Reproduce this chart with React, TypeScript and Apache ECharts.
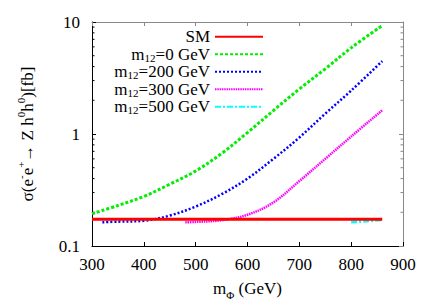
import React, { useEffect, useRef } from "react";
import * as echarts from "echarts";

const FONT = "'Liberation Serif', 'DejaVu Serif', 'Times New Roman', serif";

const seriesNames = ["SM", "m12=0 GeV", "m12=200 GeV", "m12=300 GeV", "m12=500 GeV"];
const seriesColors = ["#ff0000", "#00ee00", "#0000ff", "#ff00ff", "#00ffff"];

const smMass = [300, 400, 500, 600, 700, 800, 860];
const smSigma = [0.173, 0.173, 0.173, 0.173, 0.173, 0.173, 0.173];

const m0Mass = [300, 350, 400, 450, 500, 550, 600, 650, 700, 750, 800, 860];
const m0Sigma = [0.194, 0.23, 0.277, 0.356, 0.467, 0.67, 1.03, 1.62, 2.52, 3.82, 5.88, 9.3];

const m200Mass = [320, 350, 400, 450, 500, 550, 600, 650, 700, 750, 800, 860];
const m200Sigma = [0.163, 0.165, 0.168, 0.187, 0.225, 0.29, 0.4, 0.6, 0.93, 1.52, 2.44, 4.48];

const m300Mass = [480, 500, 550, 600, 650, 700, 750, 800, 860];
const m300Sigma = [0.163, 0.164, 0.17, 0.19, 0.245, 0.38, 0.6, 0.95, 1.63];

const m500Mass = [800, 830, 860];
const m500Sigma = [0.164, 0.167, 0.172];

const xTicksMin = 300;
const xTicksMax = 900;
const xTickStep = 100;
const yMin = 0.1;
const yMax = 10;
const yMinorTicks = [0.2, 0.3, 0.4, 0.5, 0.6, 0.7, 0.8, 0.9, 2, 3, 4, 5, 6, 7, 8, 9];

const zip = (xs: number[], ys: number[]) => xs.map((x, i) => [x, ys[i]]);

export default function App() {
  const ref = useRef<HTMLDivElement>(null);
  useEffect(() => {
    if (!ref.current) return;
    const chart = echarts.init(ref.current, undefined, { renderer: "svg" });
    const lineStyles: any[] = [
      { width: 3, type: "solid" },
      { width: 3, type: [3, 2] },
      { width: 2.5, type: [2, 2] },
      { width: 2.5, type: [1.5, 0.8] },
      { width: 3, type: [6, 2, 2, 2] },
    ];
    const datas = [
      zip(smMass, smSigma),
      zip(m0Mass, m0Sigma),
      zip(m200Mass, m200Sigma),
      zip(m300Mass, m300Sigma),
      zip(m500Mass, m500Sigma),
    ];
    const lineSeries = datas.map((d, i) => ({
      type: "line",
      name: seriesNames[i],
      data: d,
      smooth: 0.35,
      symbol: "none",
      xAxisIndex: 0,
      yAxisIndex: 0,
      z: i === 0 ? 5 : 3,
      lineStyle: { color: seriesColors[i], ...lineStyles[i] },
      itemStyle: { color: seriesColors[i] },
    }));
    const tickSeries = {
      type: "custom",
      name: "minorTicks",
      xAxisIndex: 0,
      yAxisIndex: 0,
      silent: true,
      data: yMinorTicks.map((v) => [xTicksMin, v]),
      renderItem: (params: any, api: any) => {
        const p = api.coord([api.value(0), api.value(1)]);
        const cs = params.coordSys;
        return {
          type: "group",
          children: [
            { type: "line", shape: { x1: cs.x, y1: p[1], x2: cs.x + 2.5, y2: p[1] }, style: { stroke: "#000", lineWidth: 1 } },
            { type: "line", shape: { x1: cs.x + cs.width, y1: p[1], x2: cs.x + cs.width - 2.5, y2: p[1] }, style: { stroke: "#888", lineWidth: 1 } },
          ],
        };
      },
    };
    const axisFont = { fontFamily: FONT, fontSize: 17, color: "#000" };
    chart.setOption({
      animation: false,
      grid: { left: 92, right: 32, top: 22, bottom: 56 },
      legend: {
        data: seriesNames,
        orient: "vertical",
        align: "right",
        right: 166,
        top: 23,
        itemWidth: 48,
        itemHeight: 12,
        itemGap: 0,
        selectedMode: false,
        itemStyle: { opacity: 0 },
        formatter: (name: string) =>
          name.startsWith("m12") ? `{a|m}{sub|12}{a|${name.slice(3)}}` : `{a|${name}}`,
        textStyle: {
          fontFamily: FONT,
          fontSize: 17,
          color: "#000",
          lineHeight: 17.5,
          rich: {
            a: { fontFamily: FONT, fontSize: 17, color: "#000", lineHeight: 17.5 },
            sub: { fontFamily: FONT, fontSize: 11, color: "#000", lineHeight: 11, verticalAlign: "bottom" },
          },
        },
      },
      xAxis: [
        {
          type: "value",
          min: xTicksMin,
          max: xTicksMax,
          interval: xTickStep,
          position: "bottom",
          name: "{a|m}{sub|Φ}{a| (GeV)}",
          nameLocation: "middle",
          nameGap: 30,
          nameTextStyle: {
            rich: {
              a: { fontFamily: FONT, fontSize: 17, color: "#000", lineHeight: 24 },
              sub: { fontFamily: FONT, fontSize: 11, color: "#000", lineHeight: 11, verticalAlign: "bottom" },
            },
          },
          axisLine: { lineStyle: { color: "#000", width: 1 } },
          axisTick: { inside: true, length: 4, lineStyle: { color: "#000" } },
          axisLabel: { ...axisFont, margin: 10 },
          splitLine: { show: false },
        },
        {
          type: "value",
          min: xTicksMin,
          max: xTicksMax,
          interval: xTickStep,
          position: "top",
          axisLine: { lineStyle: { color: "#888", width: 1 } },
          axisTick: { inside: true, length: 4, lineStyle: { color: "#888" } },
          axisLabel: { show: false },
          splitLine: { show: false },
        },
      ],
      yAxis: [
        {
          type: "log",
          logBase: 10,
          min: yMin,
          max: yMax,
          position: "left",
          name: "{a|σ(e}{sup|-}{a|e}{sup|+}{a|→ Z h}{sup|0}{a|h}{sup|0}{a|)[fb]}",
          nameLocation: "middle",
          nameGap: 53,
          nameTextStyle: {
            rich: {
              a: { fontFamily: FONT, fontSize: 17, color: "#000", lineHeight: 24 },
              sup: { fontFamily: FONT, fontSize: 11, color: "#000", lineHeight: 11, verticalAlign: "top" },
            },
          },
          axisLine: { lineStyle: { color: "#000", width: 1 } },
          axisTick: { inside: true, length: 4, lineStyle: { color: "#000" } },
          axisLabel: { ...axisFont, margin: 12, formatter: (v: number) => String(v) },
          splitLine: { show: false },
        },
        {
          type: "log",
          logBase: 10,
          min: yMin,
          max: yMax,
          position: "right",
          axisLine: { lineStyle: { color: "#888", width: 1 } },
          axisTick: { inside: true, length: 4, lineStyle: { color: "#888" } },
          axisLabel: { show: false },
          splitLine: { show: false },
        },
      ],
      series: [...lineSeries, tickSeries],
    });
    return () => chart.dispose();
  }, []);
  return <div ref={ref} style={{ width: 435, height: 305, position: "absolute", left: 0, top: 0 }} />;
}
